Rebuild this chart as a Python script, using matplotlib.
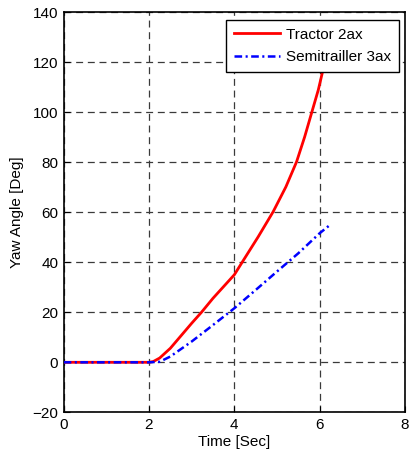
import matplotlib
matplotlib.use("Agg")
import matplotlib.pyplot as plt

plt.rcParams['font.family'] = ['Liberation Sans', 'DejaVu Sans']
plt.rcParams['lines.scale_dashes'] = False

# Data
t_tractor = [0.0, 1.0, 2.0, 2.1, 2.25, 2.5, 3.0, 3.23, 3.5, 4.0, 4.25, 4.56, 4.91, 5.21, 5.46, 5.65, 5.82, 5.97, 6.08, 6.2]
yaw_tractor = [0.0, 0.0, 0.0, 0.3, 1.7, 5.6, 15.6, 20.0, 25.6, 35.0, 41.8, 50.2, 60.2, 70.2, 80.2, 90.2, 100.2, 109.0, 117.0, 130.0]

t_trailer = [0.0, 1.0, 2.0, 2.25, 2.5, 3.0, 3.5, 4.0, 4.5, 5.0, 5.5, 6.0, 6.24]
yaw_trailer = [0.0, 0.0, 0.0, 0.2, 2.3, 8.3, 14.9, 21.6, 28.9, 36.3, 43.6, 51.6, 54.9]

labels = ["Tractor 2ax", "Semitrailler 3ax"]
xlabel = "Time [Sec]"
ylabel = "Yaw Angle [Deg]"

fig = plt.figure(figsize=(4.09, 4.58), dpi=100)
ax = fig.add_axes([0.1557, 0.0998, 0.8343, 0.8733])

ax.plot(t_tractor, yaw_tractor, color='#ff0000', lw=2.0, label=labels[0], zorder=3)
ax.plot(t_trailer, yaw_trailer, color='#0000ff', lw=1.8, ls=(0, (5.5, 2.5, 1.5, 2.5)), label=labels[1], zorder=3)

ax.set_xlim(0, 8)
ax.set_ylim(-20, 140)
ax.set_xticks([0, 2, 4, 6, 8])
ax.set_yticks(range(-20, 141, 20))
ax.grid(True, color='#3a3a3a', ls=(0, (5, 3.4)), lw=0.9)
ax.tick_params(direction='in', length=4, labelsize=11, colors='black', pad=4)
for s in ax.spines.values():
    s.set_linewidth(1.2)
    s.set_color('black')

ax.set_xlabel(xlabel, fontsize=11, labelpad=2)
ax.set_ylabel(ylabel, fontsize=11, labelpad=6)

leg = ax.legend(loc='upper right', bbox_to_anchor=(0.982, 0.981), fontsize=11,
                fancybox=False, edgecolor='black', framealpha=1, handlelength=3.0,
                borderaxespad=0, labelspacing=0.55, handletextpad=0.4, borderpad=0.5)
leg.get_frame().set_linewidth(1.0)
leg.set_zorder(5)

fig.savefig("out.png", dpi=100)
